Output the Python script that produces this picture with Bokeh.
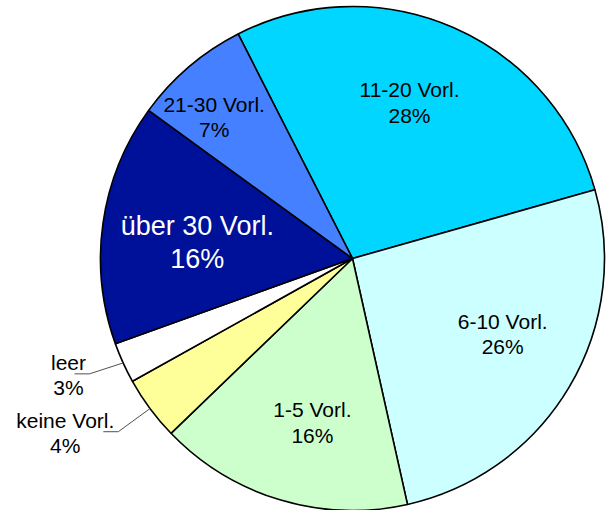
import numpy as np
from bokeh.plotting import figure
from bokeh.models import Range1d
from bokeh.core.properties import value
from bokeh.embed import file_html
from bokeh.resources import INLINE

# ---- data ----
categories = ["11-20 Vorl.", "6-10 Vorl.", "1-5 Vorl.", "keine Vorl.", "leer",
              "über 30 Vorl.", "21-30 Vorl."]
shares = [28.1, 25.9, 16.3, 4.1, 2.6, 15.5, 7.5]
pct_labels = ["28%", "26%", "16%", "4%", "3%", "16%", "7%"]
colors = ["#00D6FF", "#CCFFFF", "#CCFFCC", "#FFFF99", "#FFFFFF", "#001199", "#4480FF"]
text_colors = ["black", "black", "black", "black", "black", "white", "black"]
font_sizes = ["21px", "21px", "21px", "21px", "21px", "27px", "21px"]

# ---- label placement (style) ----
label_rf = [0.659, 0.667, 0.670, 1.333, 1.218, 0.619, 0.786]   # radius factor
label_da = [-3.5, -4.1, -3.0, 5.3, 2.2, -2.2, -3.8]             # angle tweak, deg
outside = [False, False, False, True, True, False, False]
leader_dx = [0, 0, 0, 53, 21, 0, 0]

W, H = 608, 510
CX, CY, R = 352, 252, 252
START = -27.0  # degrees clockwise from 12 o'clock

p = figure(width=W, height=H, output_backend="svg", toolbar_location=None,
           x_range=Range1d(0, W), y_range=Range1d(0, H), min_border=0)
p.axis.visible = False
p.xgrid.visible = False
p.ygrid.visible = False
p.outline_line_color = None
p.background_fill_color = "white"
p.border_fill_color = "white"


def pol(theta_deg, r):
    t = np.radians(theta_deg)
    return CX + r * np.sin(t), CY + r * np.cos(t)


vals = np.array(shares, dtype=float)
cum = np.concatenate([[0], np.cumsum(vals)]) / vals.sum() * 360.0
th0 = START + cum[:-1]
th1 = START + cum[1:]
start_ang = np.radians(90 - th1)
end_ang = np.radians(90 - th0)

p.wedge(x=[CX] * len(vals), y=[CY] * len(vals), radius=R,
        start_angle=start_ang, end_angle=end_ang, direction="anticlock",
        fill_color=colors, line_color="black", line_width=1.6)

mids = (th0 + th1) / 2
for i, cat in enumerate(categories):
    lx, ly = pol(mids[i] + label_da[i], R * label_rf[i])
    fs = float(font_sizes[i].replace("px", ""))
    dy = fs * 0.6
    p.text(x=[lx], y=[ly + dy], text=[cat], text_align="center",
           text_baseline="middle", text_font=value("Liberation Sans"),
           text_font_size=font_sizes[i], text_color=text_colors[i])
    p.text(x=[lx], y=[ly - dy], text=[pct_labels[i]], text_align="center",
           text_baseline="middle", text_font=value("Liberation Sans"),
           text_font_size=font_sizes[i], text_color=text_colors[i])
    if outside[i]:
        ex, ey = pol(mids[i], R)
        x0 = lx + leader_dx[i] - 18
        x1 = lx + leader_dx[i] - 3
        ly2 = ly + 1
        p.line(x=[x0 + 3, x1 + 3, ex], y=[ly2, ly2, ey], line_color="#505050",
               line_width=1)

open("out.html", "w").write(file_html(p, INLINE))
